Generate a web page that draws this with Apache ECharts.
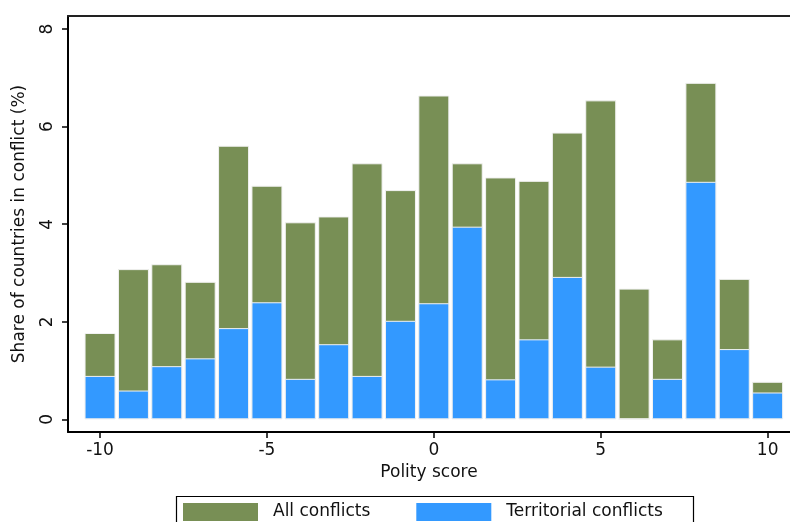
<!DOCTYPE html>
<html><head><meta charset="utf-8">
<script src="https://cdn.jsdelivr.net/npm/echarts@6/dist/echarts.min.js"></script>
<style>html,body{margin:0;padding:0;background:#fff}#c{width:790px;height:522px}</style>
</head><body><div id="c"></div>
<script>
const polity = [-10,-9,-8,-7,-6,-5,-4,-3,-2,-1,0,1,2,3,4,5,6,7,8,9,10];
const allConflicts = [1.77,3.08,3.18,2.82,5.61,4.79,4.04,4.16,5.25,4.70,6.64,5.25,4.96,4.89,5.88,6.54,2.68,1.64,6.90,2.88,0.77];
const territorial = [0.89,0.59,1.09,1.25,1.87,2.40,0.83,1.54,0.89,2.02,2.38,3.95,0.82,1.64,2.92,1.08,0,0.83,4.87,1.44,0.55];
const xTicks = [-10,-5,0,5,10];
const yTicks = [0,2,4,6,8];

const FONT = 'DejaVu Sans';
const chart = echarts.init(document.getElementById('c'), null, {renderer:'canvas'});
const lbl = {fontFamily: FONT, fontSize: 17, color: '#111'};
chart.setOption({
  animation: false,
  backgroundColor: '#fff',
  grid: {left: 68, top: 16, right: 0, bottom: 90, containLabel: false},
  xAxis: [{
    type: 'value', min: -10.96, max: 10.67,
    axisLine: {show: true, onZero: false, lineStyle: {color: '#000', width: 2}},
    axisTick: {show: true, length: 6, lineStyle: {color: '#000', width: 1.5}, customValues: xTicks},
    axisLabel: Object.assign({margin: 10, customValues: xTicks}, lbl),
    splitLine: {show: false},
    name: 'Polity score', nameLocation: 'middle', nameGap: 30, nameTextStyle: lbl
  }, {
    type: 'value', position: 'top', min: -10.96, max: 10.67,
    axisLine: {show: true, onZero: false, lineStyle: {color: '#222', width: 2}},
    axisTick: {show: false}, axisLabel: {show: false}, splitLine: {show: false}
  }],
  yAxis: {
    type: 'value', min: -0.26, max: 8.27,
    axisLine: {show: true, onZero: false, lineStyle: {color: '#000', width: 2}},
    axisTick: {show: true, length: 6, lineStyle: {color: '#000', width: 1.5}, customValues: yTicks},
    axisLabel: Object.assign({margin: 12, rotate: 90, customValues: yTicks}, lbl),
    splitLine: {show: false},
    name: 'Share of countries in conflict (%)', nameLocation: 'middle', nameGap: 40, nameTextStyle: lbl
  },
  legend: {
    left: 183, top: 503, padding: 0, itemWidth: 75, itemHeight: 18, itemGap: 46, icon: 'rect',
    itemStyle: {borderWidth: 0},
    textStyle: Object.assign({padding: [0,0,0,10]}, lbl),
    data: ['All conflicts', 'Territorial conflicts']
  },
  graphic: [{
    type: 'rect', left: 174, top: 494,
    shape: {width: 517, height: 60},
    style: {fill: 'none', stroke: '#000', lineWidth: 1.2}, z: 0, silent: true
  }],
  series: [{
    name: 'All conflicts', type: 'bar', barWidth: 31, barGap: '-100%',
    itemStyle: {color: '#788F55', borderColor: '#f2f2f2', borderWidth: 1},
    data: polity.map((p, i) => [p, allConflicts[i]])
  }, {
    name: 'Territorial conflicts', type: 'bar', barWidth: 31, barGap: '-100%',
    itemStyle: {color: '#3399FF', borderColor: '#f2f2f2', borderWidth: 1},
    data: polity.map((p, i) => [p, territorial[i]])
  }]
});
</script></body></html>
